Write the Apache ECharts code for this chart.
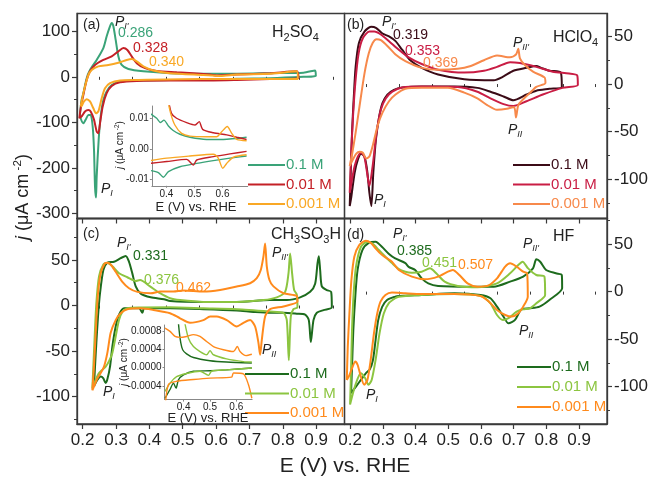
<!DOCTYPE html>
<html><head><meta charset="utf-8">
<script src="https://cdn.jsdelivr.net/npm/echarts@6/dist/echarts.min.js"></script>
<style>html,body{margin:0;padding:0;background:#fff}#c{width:651px;height:480px}</style>
</head><body><div id="c"></div>
<script>
// ---------------- data ----------------
const xMajor = [0.2,0.3,0.4,0.5,0.6,0.7,0.8,0.9];
const xMinor = [0.25,0.35,0.45,0.55,0.65,0.75,0.85,0.95];
const yMajorA = [100,0,-100,-200,-300];
const yMinorA = [50,-50,-150,-250];
const yMajorBCD = [50,0,-50,-100];
const yMinorB = [25,-25,-75,-125];
const yMinorCD = [75,25,-25,-75,-125];
const insetXTicks = [0.4,0.5,0.6];
const insetAYTicks = [-0.01,0,0.01];
const insetCYTicks = [-0.0004,0,0.0004,0.0008];
const concLabels = ['0.1 M','0.01 M','0.001 M'];
const peaksA = ['0.286','0.328','0.340'];
const peaksB = ['0.319','0.353','0.369'];
const peaksC = ['0.331','0.376','0.462'];
const peaksD = ['0.385','0.451','0.507'];

// (a) H2SO4
const a01 = [[0.192,-80],[0.197,-50],[0.202,-36],[0.212,-3],[0.222,15],[0.242,37],[0.262,63],[0.272,89],[0.280,107],[0.287,118],[0.292,111],[0.299,81],[0.307,45],[0.317,26],[0.337,17],[0.382,12],[0.462,8],[0.562,7],[0.662,7],[0.762,8],[0.862,9],[0.897,14],[0.899,2],[0.862,0],[0.762,-3],[0.662,-4],[0.562,-7],[0.462,-7],[0.362,-8],[0.312,-10],[0.287,-18],[0.272,-32],[0.262,-51],[0.254,-87],[0.248,-138],[0.242,-219],[0.240,-265],[0.237,-241],[0.234,-160],[0.230,-109],[0.224,-84],[0.217,-84],[0.209,-94],[0.202,-102],[0.194,-91],[0.192,-80]];
const a001 = [[0.190,-91],[0.195,-65],[0.202,-40],[0.212,-7],[0.222,12],[0.237,26],[0.262,37],[0.287,45],[0.307,56],[0.322,63],[0.334,59],[0.347,45],[0.362,30],[0.387,19],[0.422,13],[0.482,10],[0.582,5],[0.602,3],[0.662,5],[0.762,8],[0.842,12],[0.847,-3],[0.762,-5],[0.662,-7],[0.592,-8],[0.462,-8],[0.362,-9],[0.312,-12],[0.287,-20],[0.272,-36],[0.260,-65],[0.252,-102],[0.247,-124],[0.242,-120],[0.234,-94],[0.224,-76],[0.217,-73],[0.207,-76],[0.197,-87],[0.190,-91]];
const a0001 = [[0.194,-65],[0.200,-43],[0.207,-21],[0.217,4],[0.227,15],[0.247,23],[0.277,26],[0.307,31],[0.332,37],[0.347,39],[0.362,34],[0.382,23],[0.412,14],[0.462,8],[0.562,4],[0.612,2],[0.662,5],[0.762,7],[0.842,12],[0.845,-5],[0.762,-5],[0.562,-5],[0.362,-7],[0.312,-8],[0.282,-14],[0.267,-25],[0.257,-47],[0.247,-76],[0.240,-80],[0.232,-69],[0.222,-54],[0.212,-49],[0.204,-54],[0.197,-64],[0.194,-65]];
// (b) HClO4
const b01 = [[0.199,-128],[0.202,-93],[0.206,-51],[0.211,-16],[0.217,18],[0.227,43],[0.244,55],[0.264,60],[0.279,59],[0.299,53],[0.319,50],[0.339,45],[0.359,36],[0.384,25],[0.419,17],[0.469,10],[0.549,5],[0.639,4],[0.669,8],[0.699,14],[0.739,17],[0.769,19],[0.784,17],[0.809,14],[0.844,12],[0.847,-3],[0.809,-5],[0.769,-7],[0.739,-11],[0.699,-17],[0.669,-13],[0.629,-8],[0.589,-4],[0.519,-2.5],[0.419,-2.5],[0.359,-3.6],[0.334,-6],[0.314,-11],[0.299,-20],[0.289,-34],[0.279,-58],[0.271,-93],[0.265,-128],[0.259,-114],[0.252,-90],[0.244,-76],[0.234,-73],[0.224,-79],[0.214,-93],[0.204,-118],[0.199,-128]];
const b001 = [[0.199,-114],[0.204,-69],[0.209,-34],[0.216,1],[0.226,32],[0.239,48],[0.259,55],[0.274,55],[0.294,52],[0.319,45],[0.349,36],[0.379,28],[0.419,21],[0.469,15],[0.549,12],[0.609,14],[0.649,18],[0.689,23],[0.719,22],[0.769,18],[0.819,13],[0.869,11],[0.894,9],[0.896,-1],[0.849,-4],[0.789,-11],[0.739,-18],[0.699,-23],[0.669,-21],[0.629,-15],[0.589,-8],[0.529,-3],[0.419,-2.5],[0.359,-3.6],[0.329,-8],[0.309,-15],[0.294,-27],[0.281,-51],[0.269,-86],[0.259,-107],[0.252,-93],[0.244,-77],[0.234,-72],[0.224,-76],[0.214,-86],[0.204,-104],[0.199,-114]];
const b0001 = [[0.199,-86],[0.207,-72],[0.217,-51],[0.229,-23],[0.244,11],[0.257,32],[0.269,43],[0.281,47],[0.294,46],[0.314,40],[0.339,31],[0.369,24],[0.419,17],[0.469,15],[0.529,16],[0.569,19],[0.609,25],[0.649,30],[0.689,28],[0.707,31],[0.714,37],[0.719,27],[0.734,20],[0.759,13],[0.794,7],[0.797,1],[0.769,-3],[0.749,-9.5],[0.729,-16],[0.714,-22],[0.707,-35],[0.701,-24],[0.679,-26],[0.649,-27],[0.619,-22],[0.589,-15],[0.549,-9],[0.499,-4],[0.419,-4],[0.369,-5],[0.339,-11],[0.319,-18],[0.299,-30],[0.284,-44],[0.269,-65],[0.259,-76],[0.249,-78],[0.239,-72],[0.229,-71],[0.219,-73],[0.209,-79],[0.199,-86]];
// (c) CH3SO3H
const c01 = [[0.234,-89],[0.237,-67],[0.241,-41],[0.246,-12],[0.252,13.5],[0.262,39],[0.274,47],[0.294,48],[0.314,52],[0.329,54.4],[0.339,48],[0.349,35],[0.359,21],[0.374,13],[0.404,9],[0.444,7],[0.462,5],[0.562,4],[0.662,4],[0.762,6],[0.812,6],[0.852,9],[0.882,15],[0.897,24],[0.904,46],[0.908,54],[0.912,39],[0.917,21],[0.932,17],[0.945,15],[0.947,-2],[0.922,-5],[0.902,-8],[0.892,-16],[0.884,-40],[0.878,-16],[0.867,-10],[0.842,-9],[0.802,-8],[0.762,-8],[0.712,-7],[0.662,-5.5],[0.562,-4],[0.462,-3],[0.412,-3],[0.384,-3],[0.379,-8],[0.369,-3],[0.324,-3],[0.309,-10],[0.299,-23],[0.289,-45],[0.282,-67],[0.274,-81],[0.269,-85],[0.262,-80],[0.254,-78],[0.244,-81.5],[0.236,-87],[0.234,-89]];
const c001 = [[0.229,-91],[0.232,-67],[0.236,-34],[0.241,2.5],[0.249,32],[0.262,45],[0.274,47],[0.289,43],[0.309,35.4],[0.334,31],[0.359,27],[0.372,28],[0.402,21],[0.432,13.5],[0.462,8],[0.492,6],[0.562,4],[0.662,4],[0.742,6],[0.782,9],[0.807,15],[0.817,35],[0.822,57],[0.828,35],[0.834,17],[0.842,12],[0.844,-2],[0.832,-4],[0.824,-12],[0.818,-60],[0.812,-16],[0.802,-8],[0.762,-6.6],[0.662,-4],[0.562,-3],[0.462,-2],[0.374,-2.2],[0.334,-3],[0.319,-7],[0.309,-16],[0.299,-34],[0.289,-52],[0.279,-61],[0.269,-67],[0.259,-70.6],[0.249,-74],[0.239,-81.5],[0.229,-91]];
const c0001 = [[0.229,-93],[0.232,-78],[0.236,-52],[0.241,-16],[0.246,13.5],[0.254,35.4],[0.266,46],[0.274,47],[0.284,45],[0.299,37],[0.319,26],[0.339,19],[0.364,15],[0.404,13.5],[0.432,15.3],[0.472,15.3],[0.502,16.4],[0.562,15.3],[0.612,17],[0.662,20.8],[0.702,24.5],[0.722,30],[0.734,39],[0.742,54],[0.747,68],[0.752,43],[0.760,28],[0.772,21],[0.802,13.5],[0.842,10.6],[0.844,4.4],[0.802,-1],[0.762,-4],[0.747,-12],[0.737,-38],[0.732,-54],[0.727,-41],[0.717,-23],[0.702,-16],[0.682,-19],[0.662,-23],[0.632,-16],[0.602,-12],[0.582,-12],[0.562,-16],[0.522,-19],[0.492,-14],[0.462,-8.4],[0.412,-4.8],[0.374,-3],[0.334,-4],[0.314,-8.4],[0.299,-16],[0.284,-30],[0.274,-52],[0.264,-67],[0.254,-74],[0.244,-80],[0.236,-87],[0.229,-93]];
// (d) HF
const d01 = [[0.203,-107],[0.206,-79],[0.210,-40],[0.216,-5],[0.223,23],[0.238,44],[0.258,51.5],[0.278,52.6],[0.298,47],[0.318,40],[0.338,35],[0.369,30],[0.379,26],[0.399,22.8],[0.419,14],[0.439,8.7],[0.469,6],[0.569,5.2],[0.639,5.2],[0.689,10.5],[0.729,15.8],[0.759,24.5],[0.769,34],[0.781,31.5],[0.799,22.8],[0.829,19.3],[0.847,17.5],[0.848,3.5],[0.809,-8.8],[0.779,-15.8],[0.749,-17.6],[0.724,-18.6],[0.704,-29.8],[0.684,-33.4],[0.669,-26.4],[0.649,-15.8],[0.629,-7],[0.599,-3.5],[0.519,-1.8],[0.419,-3.5],[0.349,-4.6],[0.338,-5.3],[0.313,-8.8],[0.298,-16],[0.286,-30],[0.278,-51],[0.270,-72],[0.260,-82],[0.248,-86],[0.233,-93],[0.218,-100],[0.203,-107]];
const d001 = [[0.200,-119],[0.203,-82.5],[0.206,-40],[0.211,-1.8],[0.218,26],[0.233,47],[0.253,52.6],[0.268,50.8],[0.288,43.8],[0.308,36.8],[0.328,30],[0.348,24],[0.369,21],[0.389,20],[0.419,21],[0.444,24.5],[0.464,19],[0.489,10.5],[0.529,6],[0.589,4.5],[0.649,8.7],[0.689,19.3],[0.714,28],[0.727,31.5],[0.744,24.5],[0.769,17.5],[0.794,15.8],[0.796,-3.5],[0.769,-12.3],[0.749,-17.6],[0.729,-18.6],[0.709,-21],[0.684,-28],[0.667,-29.8],[0.649,-24.6],[0.629,-12.3],[0.599,-4.6],[0.519,-2.5],[0.419,-3.5],[0.349,-5.3],[0.338,-7],[0.318,-12.3],[0.303,-23],[0.290,-44],[0.278,-72],[0.266,-93],[0.256,-98],[0.246,-91],[0.233,-86],[0.218,-96.5],[0.206,-110.6],[0.200,-119]];
const d0001 = [[0.190,-93],[0.193,-58],[0.198,-23],[0.204,12],[0.213,36.8],[0.228,49],[0.248,53.6],[0.263,51.5],[0.278,45.6],[0.293,40],[0.308,36],[0.328,31.5],[0.349,22.8],[0.389,15.8],[0.429,13],[0.469,15.8],[0.499,21],[0.514,22.8],[0.534,17.5],[0.559,8.7],[0.589,5.2],[0.619,6],[0.649,14],[0.674,26.3],[0.689,29.8],[0.709,26.3],[0.729,21],[0.741,19.3],[0.743,-5.3],[0.729,-15.8],[0.714,-22.8],[0.694,-26.3],[0.674,-24.6],[0.649,-19.3],[0.624,-10.5],[0.599,-4.6],[0.519,-2.5],[0.419,-2.5],[0.369,-1.8],[0.328,-1],[0.308,-3.5],[0.293,-10.5],[0.283,-23],[0.273,-44],[0.263,-72],[0.253,-93],[0.243,-98],[0.233,-89.5],[0.223,-77],[0.216,-73.7],[0.206,-80.7],[0.196,-89.5],[0.190,-93]];
// inset of (a)
const ia01 = [[0.341,0.0116],[0.365,0.0100],[0.379,0.0086],[0.391,0.0094],[0.407,0.0075],[0.424,0.0060],[0.448,0.0048],[0.484,0.0038],[0.543,0.0031],[0.603,0.0031],[0.686,0.0038],null,[0.341,-0.0070],[0.371,-0.0077],[0.389,-0.0092],[0.407,-0.0074],[0.448,-0.0058],[0.508,-0.0047],[0.567,-0.0038],[0.627,-0.0030],[0.686,-0.0023]];
const ia001 = [[0.405,0.017],[0.418,0.0116],[0.436,0.0100],[0.472,0.0086],[0.502,0.0078],[0.517,0.0089],[0.529,0.0064],[0.567,0.0053],[0.615,0.0046],[0.651,0.0038],[0.686,0.0031],null,[0.341,-0.0047],[0.401,-0.0041],[0.472,-0.0034],[0.496,-0.0052],[0.508,-0.0036],[0.567,-0.0025],[0.627,-0.0016],[0.686,-0.0008]];
const ia0001 = [[0.402,0.017],[0.415,0.0116],[0.430,0.0078],[0.454,0.0051],[0.484,0.0042],[0.543,0.0040],[0.579,0.0040],[0.597,0.0056],[0.617,0.0073],[0.633,0.0051],[0.651,0.0031],[0.686,0.0027],null,[0.341,-0.0038],[0.401,-0.0030],[0.484,-0.0023],[0.567,-0.0017],[0.585,-0.0030],[0.601,-0.0063],[0.615,-0.0047],[0.639,-0.0027],[0.686,-0.0019]];
// inset of (c)
const ic01 = [[0.378,0.0011],[0.383,0.00079],[0.389,0.00054],[0.396,0.00039],[0.411,0.00030],[0.437,0.00022],[0.5,0.00015],[0.563,0.00012],[0.659,0.00010],null,[0.329,-0.00067],[0.348,-0.00048],[0.361,-0.00034],[0.371,-0.00045],[0.380,-0.00027],[0.399,-0.00016],[0.437,-0.00008],[0.5,-0.00007],[0.563,-0.00005],[0.659,-0.00001]];
const ic001 = [[0.40,0.0011],[0.418,0.00064],[0.437,0.00046],[0.462,0.00035],[0.487,0.00028],[0.5,0.00037],[0.513,0.00028],[0.563,0.00019],[0.627,0.00013],[0.659,0.00012],null,[0.329,-0.00052],[0.348,-0.00034],[0.373,-0.0002],[0.411,-0.00013],[0.462,-0.00008],[0.494,-0.00017],[0.506,-0.00008],[0.563,-0.00005],[0.659,-0.00001]];
const ic0001 = [[0.329,0.00086],[0.348,0.00079],[0.367,0.00068],[0.386,0.00066],[0.411,0.00068],[0.437,0.00072],[0.462,0.00068],[0.487,0.00057],[0.513,0.00046],[0.551,0.00039],[0.589,0.00035],[0.604,0.00046],[0.614,0.00035],[0.637,0.00026],[0.659,0.00029],null,[0.329,-0.0009],[0.342,-0.00037],[0.373,-0.0003],[0.437,-0.00026],[0.5,-0.00023],[0.582,-0.00021],[0.589,-0.00012],[0.627,-0.00014],[0.646,-0.00037],[0.659,-0.00067]];

// ---------------- styling / layout ----------------
const FONT = 'Liberation Sans, Arial, Helvetica, sans-serif';
const AX = '#3a3a3a';
const colA = ['#3aa378','#c42026','#f9a825'];
const colB = ['#3b0b17','#c91d44','#f7894b'];
const colC = ['#1d6b1d','#8cc540','#ff8a1c'];
const colD = colC;

const grids = [
  {left:77, top:13.5, width:267.5, height:205},
  {left:344.5, top:13.5, width:267.5, height:205},
  {left:77, top:218.5, width:267.5, height:205.5},
  {left:344.5, top:218.5, width:267.5, height:205.5},
  {left:151.9, top:106, width:95.8, height:79.8},
  {left:164.5, top:325, width:87.6, height:74.6}
].map((g,i)=>Object.assign({show:i<4, borderColor:AX, borderWidth:1.3, backgroundColor:'transparent', containLabel:false}, g));

const xr = [0.183, 0.985];
const yr = [[-311,139],[-141,74],[-130,95.5],[-139.4,77]];

const xAxes = [], yAxes = [];
for (let i=0;i<4;i++){
  xAxes.push({type:'value', gridIndex:i, min:xr[0], max:xr[1], position:'bottom',
    axisLine:{show:true, onZero:false, lineStyle:{color:AX,width:1.3}},
    axisTick:{show:true, customValues:xMajor, length:5, lineStyle:{color:AX,width:1.2}},
    axisLabel:{show:i>=2, customValues:xMajor, margin:8, fontSize:17, color:'#222', fontFamily:FONT, formatter:v=>v.toFixed(1)},
    splitLine:{show:false}});
}
xAxes.push({type:'value', gridIndex:4, min:0.348, max:0.690, position:'bottom',
  axisLine:{show:true, onZero:false, lineStyle:{color:'#888',width:1}},
  axisTick:{show:true, customValues:insetXTicks, length:2, lineStyle:{color:'#888'}},
  axisLabel:{customValues:insetXTicks, margin:3, fontSize:10, color:'#222', fontFamily:FONT, formatter:v=>v.toFixed(1)},
  splitLine:{show:false}});
xAxes.push({type:'value', gridIndex:5, min:0.327, max:0.660, position:'bottom',
  axisLine:{show:true, onZero:false, lineStyle:{color:'#888',width:1}},
  axisTick:{show:true, customValues:insetXTicks, length:2, lineStyle:{color:'#888'}},
  axisLabel:{customValues:insetXTicks, margin:3, fontSize:10, color:'#222', fontFamily:FONT, formatter:v=>v.toFixed(1)},
  splitLine:{show:false}});
for (let i=0;i<4;i++){
  xAxes.push({type:'value', gridIndex:i, min:xr[0], max:xr[1], position:'bottom',
    axisLine:{show:false}, axisLabel:{show:false}, splitLine:{show:false},
    axisTick:{show:true, customValues:xMinor, length:3, lineStyle:{color:AX,width:1}}});
}
const yMajors = [yMajorA, yMajorBCD, yMajorBCD, yMajorBCD];
const yMinors = [yMinorA, yMinorB, yMinorCD, yMinorCD];
for (let i=0;i<4;i++){
  yAxes.push({type:'value', gridIndex:i, min:yr[i][0], max:yr[i][1], position:(i%2?'right':'left'),
    axisLine:{show:true, onZero:false, lineStyle:{color:AX,width:1.3}},
    axisTick:{show:true, customValues:yMajors[i], length:5, lineStyle:{color:AX,width:1.2}},
    axisLabel:{customValues:yMajors[i], margin:7, fontSize:17, color:'#222', fontFamily:FONT},
    splitLine:{show:false}});
}
yAxes.push({type:'value', gridIndex:4, min:-0.012, max:0.014, position:'left',
  axisLine:{show:true, onZero:false, lineStyle:{color:'#888',width:1}},
  axisTick:{show:true, customValues:insetAYTicks, length:2, lineStyle:{color:'#888'}},
  axisLabel:{customValues:insetAYTicks, margin:3, fontSize:10, color:'#222', fontFamily:FONT, formatter:v=>(Math.abs(v)<1e-9?'0.00':v.toFixed(2))},
  splitLine:{show:false}});
yAxes.push({type:'value', gridIndex:5, min:-0.0007, max:0.00093, position:'left',
  axisLine:{show:true, onZero:false, lineStyle:{color:'#888',width:1}},
  axisTick:{show:true, customValues:insetCYTicks, length:2, lineStyle:{color:'#888'}},
  axisLabel:{customValues:insetCYTicks, margin:3, fontSize:10, color:'#222', fontFamily:FONT, formatter:v=>(Math.abs(v)<1e-9?'0.0000':v.toFixed(4))},
  splitLine:{show:false}});
for (let i=0;i<4;i++){
  yAxes.push({type:'value', gridIndex:i, min:yr[i][0], max:yr[i][1], position:(i%2?'right':'left'),
    axisLine:{show:false}, axisLabel:{show:false}, splitLine:{show:false},
    axisTick:{show:true, customValues:yMinors[i], length:3, lineStyle:{color:AX,width:1}}});
}

const series = [];
function addSeries(datas, cols, axisIdx, width){
  datas.forEach((d,k)=>series.push({type:'line', name:concLabels[k], xAxisIndex:axisIdx, yAxisIndex:axisIdx,
    data:d, showSymbol:false, symbol:'none', smooth:0.25, connectNulls:false, clip:true,
    lineStyle:{color:cols[k], width:width}, itemStyle:{color:cols[k]}, silent:true, z:3+k}));
}
addSeries([a01,a001,a0001], colA, 0, 2);
addSeries([b01,b001,b0001], colB, 1, 2);
addSeries([c01,c001,c0001], colC, 2, 2);
addSeries([d01,d001,d0001], colD, 3, 2);
addSeries([ia01,ia001,ia0001], colA, 4, 1.4);
addSeries([ic01,ic001,ic0001], colC, 5, 1.4);

// ---------------- texts ----------------
const G = [];
function txt(x, y, text, size, color, extra){
  const st = Object.assign({text:text, fill:color, fontSize:size, fontFamily:FONT,
    align:'left', verticalAlign:'middle', textAlign:'left', textVerticalAlign:'middle'}, extra||{});
  G.push({type:'text', x:x, y:y, silent:true, z:100, style:st});
}
function richP(x, y, sub){
  txt(x, y, '{p|P}{s|'+sub+'}', 14, '#222', {rich:{
    p:{fontSize:14, fontStyle:'italic', fontFamily:FONT, fill:'#222', color:'#222', lineHeight:18},
    s:{fontSize:9, fontStyle:'italic', fontFamily:FONT, fill:'#222', color:'#222', lineHeight:18, verticalAlign:'bottom'}}});
}
function formula(x, y, parts){
  const t = parts.map(p=> p[1] ? '{b|'+p[0]+'}' : '{t|'+p[0]+'}').join('');
  txt(x, y, t, 16, '#222', {rich:{
    t:{fontSize:16, fontFamily:FONT, fill:'#222', color:'#222', lineHeight:20},
    b:{fontSize:11, fontFamily:FONT, fill:'#222', color:'#222', lineHeight:20, verticalAlign:'bottom'}}});
}
function legend(x1, x2, ys, cols){
  ys.forEach((y,k)=>{
    G.push({type:'line', silent:true, z:100, shape:{x1:x1,y1:y,x2:x2,y2:y}, style:{stroke:cols[k], lineWidth:2}});
    txt(x2+1, y, concLabels[k], 15, cols[k]);
  });
}
txt(83, 25, '(a)', 14, '#222');
txt(347, 25, '(b)', 14, '#222');
txt(83, 234, '(c)', 14, '#222');
txt(347, 235, '(d)', 14, '#222');
formula(272, 33, [['H',0],['2',1],['SO',0],['4',1]]);
formula(553, 38, [['HClO',0],['4',1]]);
formula(271, 235, [['CH',0],['3',1],['SO',0],['3',1],['H',0]]);
formula(553, 237, [['HF',0]]);
richP(115, 22, "I'"); richP(101, 189, 'I');
txt(118, 33, peaksA[0], 14, colA[0]); txt(133, 48, peaksA[1], 14, colA[1]); txt(149, 62, peaksA[2], 14, colA[2]);
richP(382, 22, "I'"); richP(374, 200, 'I'); richP(513, 43, "II'"); richP(508, 130, 'II');
txt(393, 35, peaksB[0], 14, colB[0]); txt(405, 51, peaksB[1], 14, colB[1]); txt(423, 63, peaksB[2], 14, colB[2]);
richP(117, 243, "I'"); richP(103, 392, 'I'); richP(272, 253, "II'"); richP(262, 350, 'II');
txt(133, 256, peaksC[0], 14, colC[0]); txt(144, 280, peaksC[1], 14, colC[1]); txt(176, 288, peaksC[2], 14, colC[2]);
richP(393, 234, "I'"); richP(366, 395, 'I'); richP(523, 244, "II'"); richP(519, 331, 'II');
txt(397, 251, peaksD[0], 14, colD[0]); txt(422, 263, peaksD[1], 14, colD[1]); txt(458, 265, peaksD[2], 14, colD[2]);
legend(248, 285, [165,184.5,204], colA);
legend(513, 550, [165,184.5,204], colB);
legend(245, 289, [374,393.5,413], colC);
legend(517, 551, [367,387,407], colD);
txt(196, 207, 'E (V) vs. RHE', 13, '#222', {align:'center', textAlign:'center'});
txt(208, 418, 'E (V) vs. RHE', 13, '#222', {align:'center', textAlign:'center'});
function rotTitle(x, y, size){
  G.push({type:'text', x:x, y:y, rotation:Math.PI/2, silent:true, z:100, style:{
    text:'{i|j}{t| (μA cm}{u| -2}{t|)}', align:'center', verticalAlign:'middle', textAlign:'center', textVerticalAlign:'middle',
    fontSize:size, fontFamily:FONT, fill:'#222',
    rich:{i:{fontSize:size, fontStyle:'italic', fontFamily:FONT, fill:'#222', color:'#222', lineHeight:size*1.3},
          t:{fontSize:size, fontFamily:FONT, fill:'#222', color:'#222', lineHeight:size*1.3},
          u:{fontSize:size*0.65, fontFamily:FONT, fill:'#222', color:'#222', lineHeight:size*1.3, verticalAlign:'top'}}}});
}
rotTitle(120, 145, 10);
rotTitle(124, 362, 10);
rotTitle(23, 197, 18);
txt(345, 466, 'E (V) vs. RHE', 21, '#222', {align:'center', textAlign:'center'});

const chart = echarts.init(document.getElementById('c'));
chart.setOption({animation:false, backgroundColor:'#fff', grid:grids, xAxis:xAxes, yAxis:yAxes, series:series, graphic:G});
</script></body></html>
